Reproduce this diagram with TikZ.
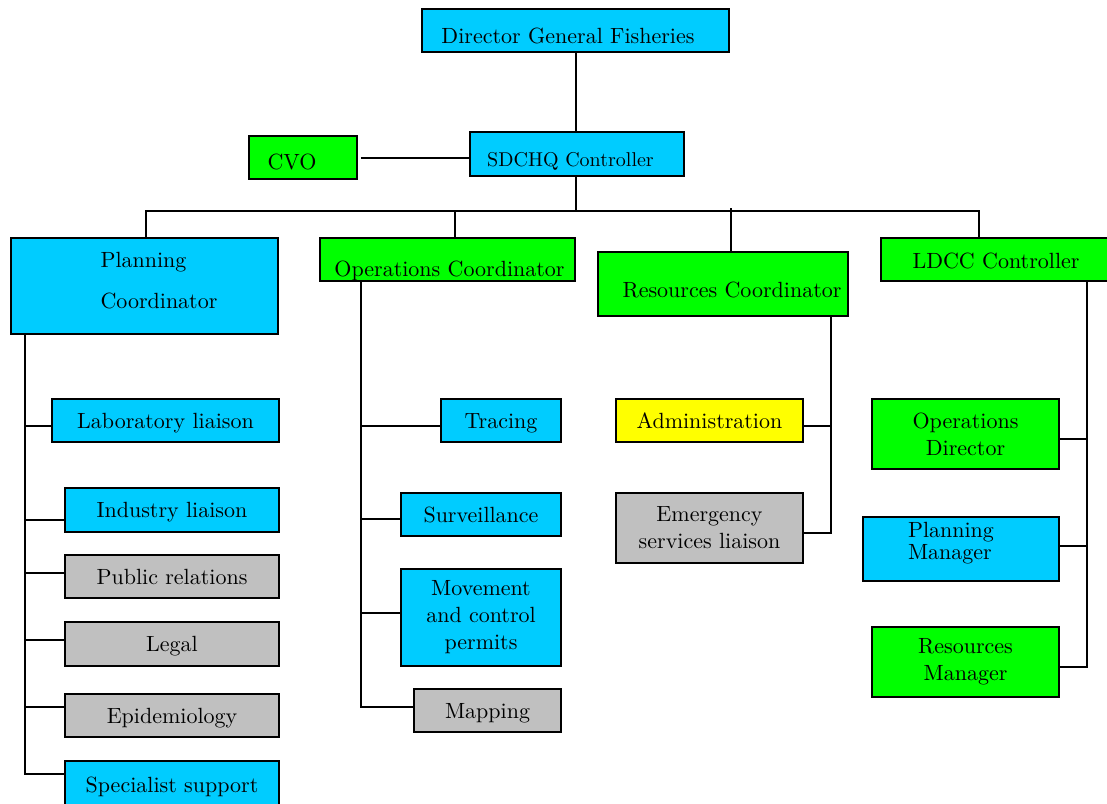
\documentclass[tikz,border=0pt]{standalone}
\usepackage{fontspec}
\newfontfamily\orgfont{lmroman10-regular.otf}
\definecolor{orgblue}{HTML}{00CCFF}
\definecolor{orggreen}{HTML}{00FF00}
\definecolor{orggray}{HTML}{C0C0C0}
\definecolor{orgyellow}{HTML}{FFFF00}
% move a line of text by (#1 right, #2 up) without changing its box
\newcommand\OrgShift[3]{\raisebox{#2}[\height][\depth]{\kern#1\relax#3\kern-#1\relax}}
\begin{document}
\begin{tikzpicture}[x=1pt,y=-1pt,
  orgbox/.style={draw=black, line width=1.5pt, inner sep=0pt,
     font=\orgfont\fontsize{22}{27}\selectfont},
  oneline/.style={text height=15pt, text depth=0pt},
  multi/.style={align=center},
  size/.style 2 args={minimum width=#1pt, minimum height=#2pt},
  bluebox/.style={orgbox, fill=orgblue},
  greenbox/.style={orgbox, fill=orggreen},
  graybox/.style={orgbox, fill=orggray},
  yellowbox/.style={orgbox, fill=orgyellow},
  link/.style={draw=black, line width=1.6pt},
]
\useasboundingbox (0,0) rectangle (1107,803);
\clip (0,0) rectangle (1107,803);

% top of the chart
\node[bluebox, oneline, size={307}{43}] (dgf) at (575.5,30.5) {\OrgShift{-7.5pt}{-5pt}{Director General Fisheries}};
\node[bluebox, oneline, size={214}{44}, font=\orgfont\fontsize{20}{24}\selectfont] (sdchq) at (577,154) {\OrgShift{-6.5pt}{-5pt}{SDCHQ Controller}};
\node[greenbox, oneline, size={108}{43}] (cvo) at (303,157.5) {\OrgShift{-11pt}{-4.5pt}{CVO}};

% second level
\node[bluebox, align=left, size={267}{96}] (plan) at (144.5,286) {\OrgShift{14.5pt}{5pt}{Planning}\\[14pt]\OrgShift{14.5pt}{5pt}{Coordinator}};
\node[greenbox, oneline, size={255}{43}] (opsc) at (447.5,259.5) {\OrgShift{2pt}{-9.5pt}{Operations Coordinator}};
\node[greenbox, oneline, size={250}{64}] (resc) at (723,284) {\OrgShift{9pt}{-6pt}{Resources Coordinator}};
\node[greenbox, oneline, size={230}{43}] (ldcc) at (996,259.5) {\OrgShift{0pt}{-1.5pt}{LDCC Controller}};

% planning column
\node[bluebox, oneline, size={227}{43}] (lab) at (165.5,420.5) {Laboratory liaison};
\node[bluebox, oneline, size={214}{44}] (ind) at (172,510) {Industry liaison};
\node[graybox, oneline, size={214}{43}] (pr) at (172,576.5) {Public relations};
\node[graybox, oneline, size={214}{44}] (legal) at (172,644) {Legal};
\node[graybox, oneline, size={214}{43}] (epi) at (172,715.5) {Epidemiology};
\node[bluebox, oneline, size={214}{48}] (spec) at (172,785) {Specialist support};

% operations column
\node[bluebox, oneline, size={120}{43}] (trace) at (501,420.5) {Tracing};
\node[bluebox, oneline, size={160}{43}] (surv) at (481,514.5) {Surveillance};
\node[bluebox, multi, size={160}{97}] (move) at (481,617.5) {Movement\\and control\\permits};
\node[graybox, oneline, size={147}{43}] (map) at (487.5,710.5) {Mapping};

% resources column
\node[yellowbox, oneline, size={187}{43}] (admin) at (709.5,420.5) {Administration};
\node[graybox, multi, size={187}{70}] (emerg) at (709.5,528) {Emergency\\services liaison};

% LDCC column
\node[greenbox, multi, size={187}{70}] (opdir) at (965.5,434) {Operations\\Director};
\node[bluebox, align=left, size={196}{64}, font=\orgfont\fontsize{22}{22}\selectfont] (planmgr) at (961,549) {\OrgShift{-10pt}{5.5pt}{Planning}\\\OrgShift{-10pt}{5.5pt}{Manager}};
\node[greenbox, multi, size={187}{70}] (resmgr) at (965.5,662) {Resources\\Manager};

% junction points of the connectors
\coordinate (spine) at (576,211);
\coordinate (drop1) at (146,211);
\coordinate (drop2) at (455,211);
\coordinate (drop3) at (731,208);
\coordinate (drop4) at (979,211);
\coordinate (pv) at (25,0);
\coordinate (ov) at (361,0);
\coordinate (rv) at (831,0);
\coordinate (lv) at (1087,0);
\coordinate (cvoline) at (0,158);

% top connectors
\draw[link] (dgf.south -| spine) -- (sdchq.north -| spine);
\draw[link] ([xshift=3pt]cvo.east |- cvoline) -- (sdchq.west |- cvoline);
\draw[link] (sdchq.south -| spine) -- (spine);
\draw[link] (drop1 |- plan.north) -- (drop1) -- (drop4) -- (drop4 |- ldcc.north);
\draw[link] (drop2) -- (drop2 |- opsc.north);
\draw[link] (drop3) -- (drop3 |- resc.north);

% planning column connectors
\draw[link] ([yshift=11pt]spec.west) -| (pv |- plan.south);
\draw[link] ([yshift=-5.5pt]lab.west) -- ++(-27,0);
\draw[link] ([yshift=-10pt]ind.west) -- ++(-40,0);
\draw[link] ([yshift=3.5pt]pr.west) -- ++(-40,0);
\draw[link] ([yshift=4pt]legal.west) -- ++(-40,0);
\draw[link] ([yshift=8.5pt]epi.west) -- ++(-40,0);

% operations column connectors
\draw[link] ([yshift=3.5pt]map.west) -| (ov |- opsc.south);
\draw[link] ([yshift=-5.5pt]trace.west) -- ++(-80,0);
\draw[link] ([yshift=-4.5pt]surv.west) -- ++(-40,0);
\draw[link] ([yshift=4.5pt]move.west) -- ++(-40,0);

% resources column connectors
\draw[link] ([yshift=-5pt]emerg.east) -| (rv |- resc.south);
\draw[link] ([yshift=-5.5pt]admin.east) -- ++(28,0);

% LDCC column connectors
\draw[link] ([yshift=-5pt]resmgr.east) -| (lv |- ldcc.south);
\draw[link] ([yshift=-5pt]opdir.east) -- ++(28,0);
\draw[link] ([yshift=3pt]planmgr.east) -- ++(28,0);
\end{tikzpicture}
\end{document}
